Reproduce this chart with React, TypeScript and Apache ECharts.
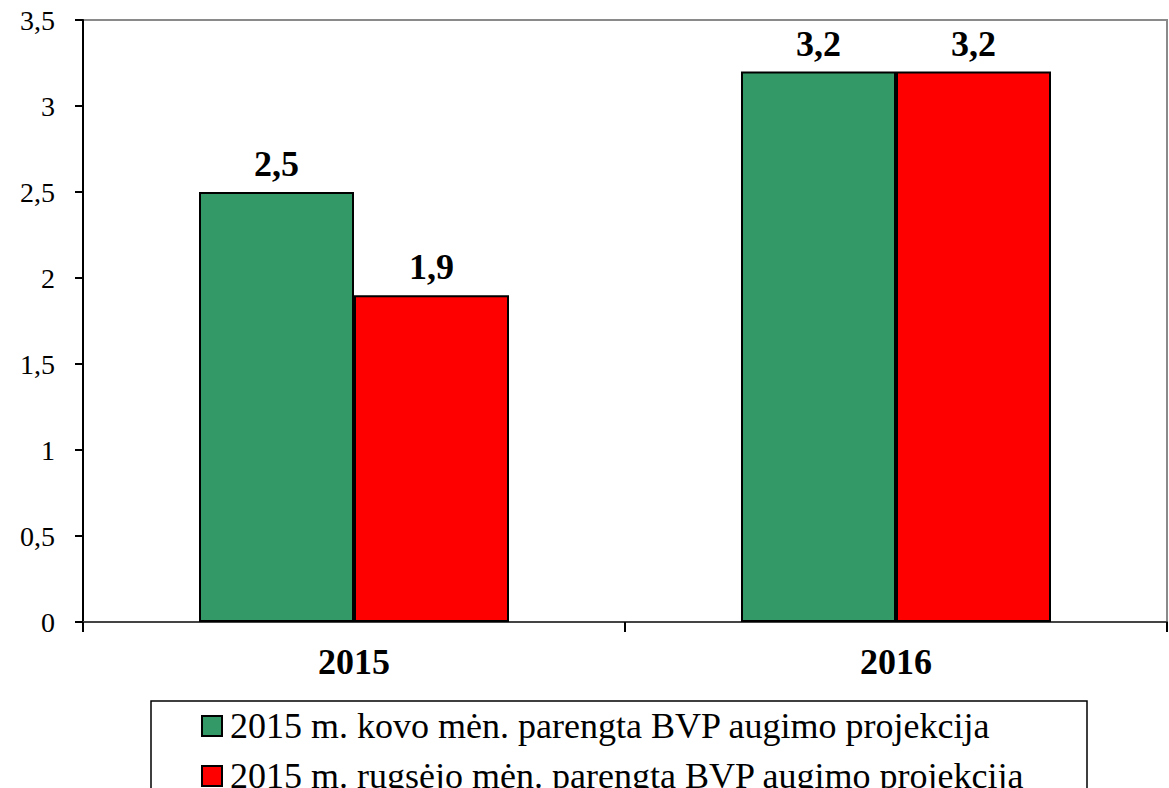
import React, { useEffect, useRef } from "react";
import * as echarts from "echarts";

const categories = ["2015", "2016"];
const seriesNames = [
  "2015 m. kovo mėn. parengta BVP augimo projekcija",
  "2015 m. rugsėjo mėn. parengta BVP augimo projekcija",
];
const marchValues = [2.5, 3.2];
const septemberValues = [1.9, 3.2];
const colors = ["#339966", "#FF0000"];

const FONT = "Liberation Serif";
const fmt = (v: number) => String(v).replace(".", ",");

export default function App() {
  const ref = useRef<HTMLDivElement>(null);
  useEffect(() => {
    if (!ref.current) return;
    const chart = echarts.init(ref.current, undefined, { renderer: "svg" });
    const dataSets = [marchValues, septemberValues];
    const legendTop = [703, 753];
    chart.setOption({
      animation: false,
      backgroundColor: "#ffffff",
      textStyle: { fontFamily: FONT, color: "#000" },
      grid: {
        left: 83,
        right: 2,
        top: 20,
        bottom: 166,
        show: true,
        borderColor: "#8a8a8a",
        borderWidth: 2,
        backgroundColor: "transparent",
      },
      xAxis: {
        type: "category",
        data: categories,
        axisLine: { show: true, lineStyle: { color: "#444", width: 2 } },
        axisTick: { show: true, length: 10, lineStyle: { color: "#000", width: 2 } },
        axisLabel: {
          fontFamily: FONT,
          fontSize: 36,
          fontWeight: "bold",
          color: "#000",
          margin: 22,
        },
      },
      yAxis: {
        type: "value",
        min: 0,
        max: 3.5,
        interval: 0.5,
        splitLine: { show: false },
        axisLine: { show: true, lineStyle: { color: "#000", width: 2 } },
        axisTick: { show: true, length: 8, lineStyle: { color: "#000", width: 2 } },
        axisLabel: {
          fontFamily: FONT,
          fontSize: 28,
          color: "#000",
          margin: 28,
          formatter: (v: number) => fmt(v),
        },
      },
      legend: seriesNames.map((name, i) => ({
        orient: "vertical",
        left: 196,
        top: legendTop[i],
        icon: "rect",
        itemWidth: 20,
        itemHeight: 20,
        textStyle: {
          fontFamily: FONT,
          fontSize: 36,
          color: "#000",
          padding: [0, 0, 0, 3],
        },
        data: [name],
      })),
      graphic: [
        {
          type: "rect",
          shape: { x: 151, y: 701, width: 936, height: 120 },
          style: { fill: "none", stroke: "#000", lineWidth: 1.5 },
          silent: true,
        },
      ],
      series: seriesNames.map((name, i) => ({
        name,
        type: "bar",
        data: dataSets[i],
        barWidth: 155,
        barGap: "0%",
        itemStyle: { color: colors[i], borderColor: "#000", borderWidth: 2 },
        label: {
          show: true,
          position: "top",
          distance: 10,
          fontFamily: FONT,
          fontSize: 36,
          fontWeight: "bold",
          color: "#000",
          formatter: (p: any) => fmt(p.value),
        },
      })),
    });
    return () => chart.dispose();
  }, []);
  return (
    <div
      ref={ref}
      style={{ position: "fixed", left: 0, top: 0, width: 1169, height: 788 }}
    />
  );
}
